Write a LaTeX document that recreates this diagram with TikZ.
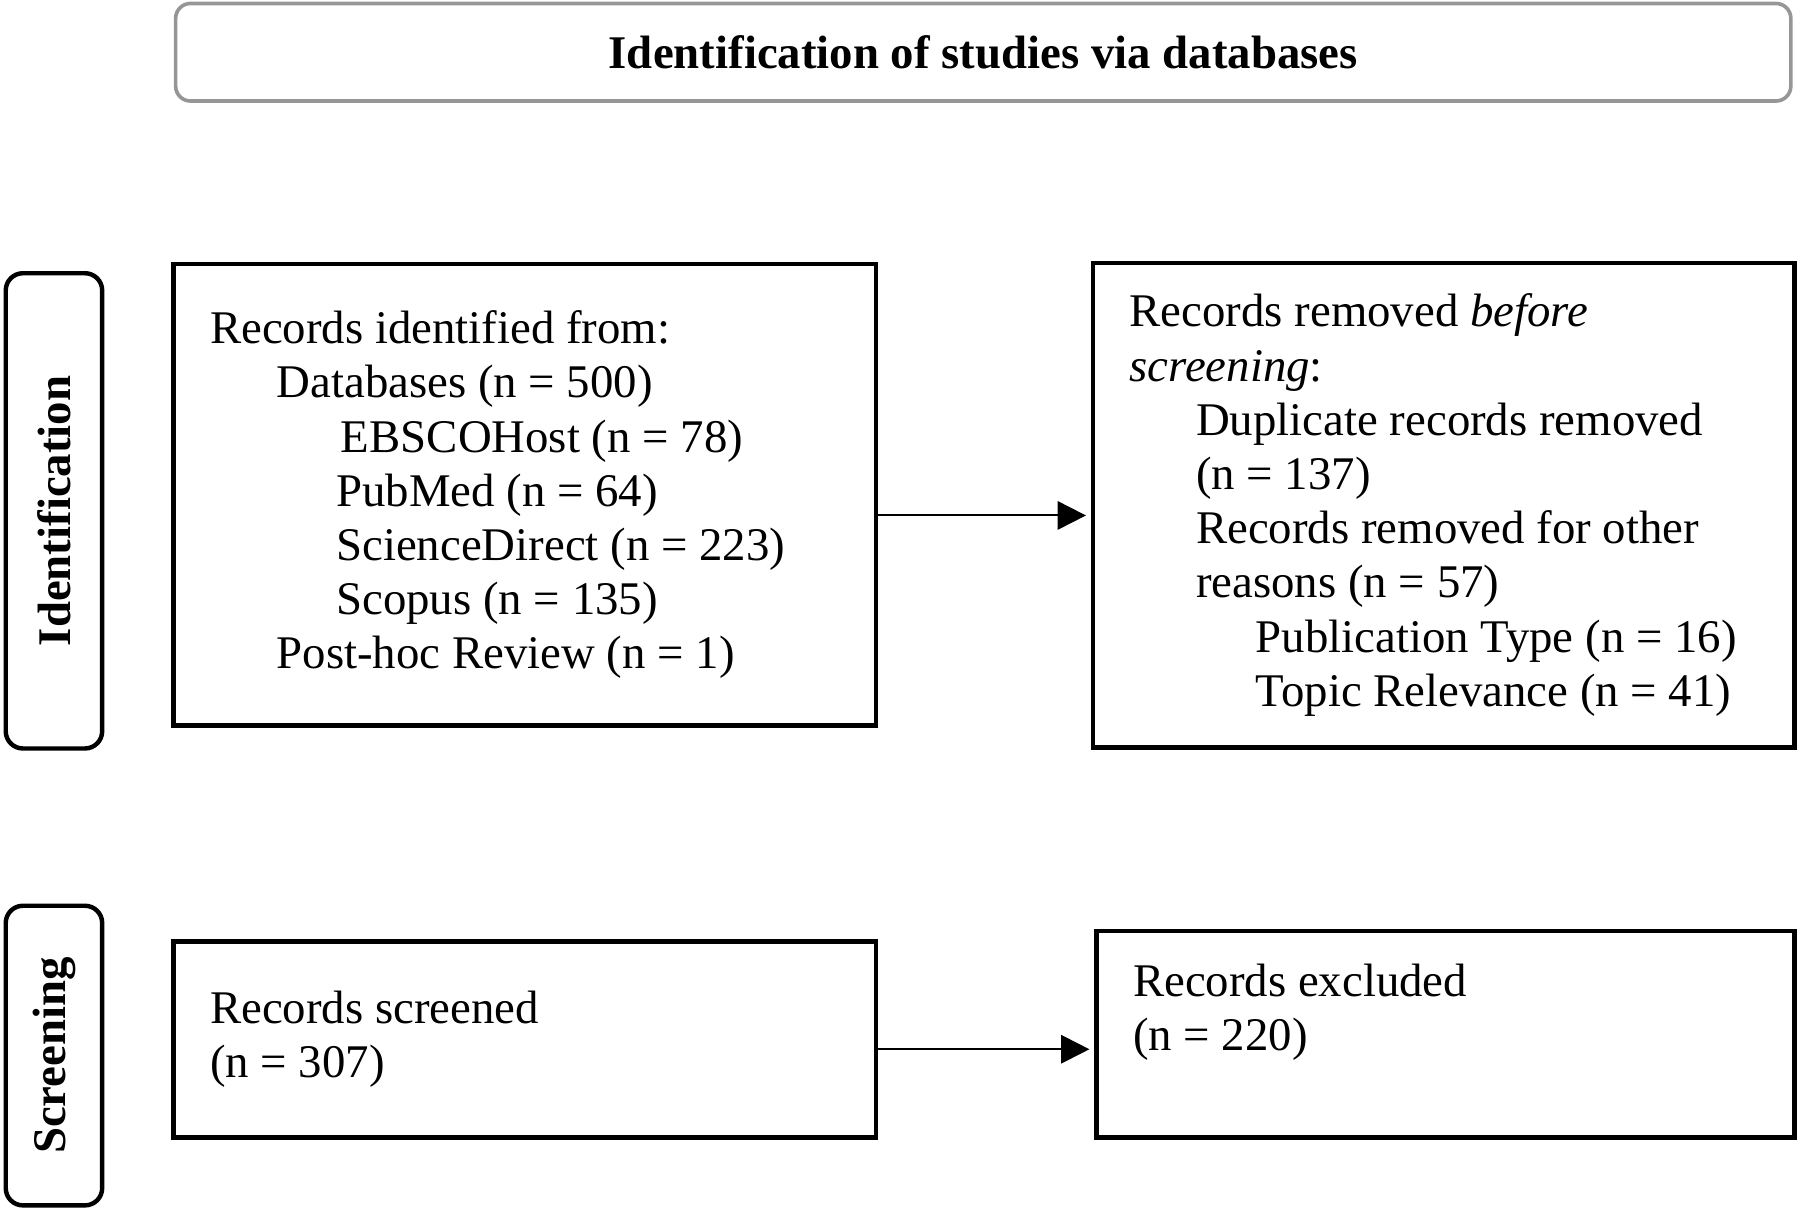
\documentclass[tikz,border=0pt]{standalone}
\usepackage{fontspec}
\setmainfont{Liberation Serif}
\usepackage{xcolor}
\usepackage{tikz}
\usetikzlibrary{arrows.meta, positioning, calc}
\definecolor{framegray}{RGB}{150, 150, 150}
\newcommand{\lvlone}{\hspace*{0.58cm}}
\newcommand{\lvltwo}{\hspace*{1.10cm}}

\begin{document}
\begin{tikzpicture}[node distance=1.5cm, every node/.style={font=\fontsize{11.6}{13.43}\selectfont}, align=flush left]
  % Styles
  \tikzstyle{headbox} = [rectangle, rounded corners=0.13cm, draw=framegray, line width=0.9pt, minimum width=14.07cm, minimum height=0.85cm, align=center, font=\fontsize{11.6}{13.43}\selectfont\bfseries]
  \tikzstyle{stagebox} = [rectangle, rounded corners=0.15cm, draw, line width=1.1pt, minimum height=0.84cm, rotate=90, align=center, font=\fontsize{11.6}{13.43}\selectfont\bfseries]
  \tikzstyle{recbox} = [rectangle, draw, line width=1.1pt, inner xsep=0.32cm, inner ysep=0cm, outer sep=0pt]
  \tikzstyle{arrow} = [line width=0.5pt, -{Triangle[length=7pt, width=7pt]}, shorten >=0.06cm]

  \useasboundingbox (0,0) rectangle (15.68,-10.523);

  % Header
  \node (head) [headbox] at (8.565,-0.455) {Identification of studies via databases};

  % Identification
  \node (ident) [recbox, text width=5.48cm, minimum height=4.02cm, anchor=north west] at (1.51,-2.30) {Records identified from:\\
    \lvlone Databases (n = 500)\\
    \hspace*{1.14cm}EBSCOHost (n = 78)\\
    \lvltwo PubMed (n = 64)\\
    \lvltwo ScienceDirect (n = 223)\\
    \lvltwo Scopus (n = 135)\\
    \lvlone Post-hoc Review (n = 1)};
  \node (removed) [recbox, text width=5.47cm, minimum height=4.22cm, right=1.89cm of ident.north east, anchor=north west, yshift=0.01cm] {Records removed \textit{before}\\
    \textit{screening}:\\
    \lvlone Duplicate records removed\\
    \lvlone (n = 137)\\
    \lvlone Records removed for other\\
    \lvlone reasons (n = 57)\\
    \lvltwo Publication Type (n = 16)\\
    \lvltwo Topic Relevance (n = 41)};

  % Screening
  \node (screened) [recbox, text width=5.48cm, minimum height=1.71cm, below=1.88cm of ident.south west, anchor=north west] {Records screened\\(n = 307)};
  \node (excluded) [recbox, text width=5.44cm, minimum height=1.80cm, right=1.92cm of screened.north east, anchor=north west, yshift=0.09cm] {Records excluded\\(n = 220)\\ \mbox{}};

  % Stage labels
  \node (stageid) [stagebox, minimum width=4.14cm] at (0.47,-4.45) {Identification};
  \node (stagescr) [stagebox, minimum width=2.61cm] at (0.47,-9.195) {Screening};

  % Connections
  \draw [arrow] ([yshift=-0.18cm]ident.east) -- ([yshift=-0.18cm]ident.east -| removed.west);
  \draw [arrow] ([yshift=-0.085cm]screened.east) -- ([yshift=-0.085cm]screened.east -| excluded.west);
\end{tikzpicture}
\end{document}
